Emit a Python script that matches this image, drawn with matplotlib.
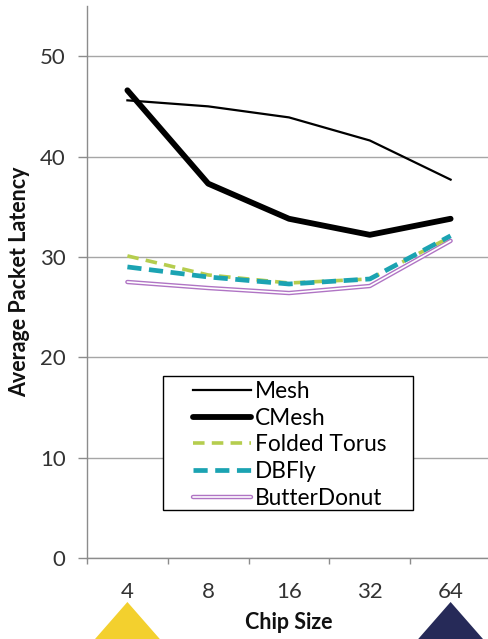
import matplotlib
matplotlib.use("Agg")
import matplotlib.pyplot as plt
import matplotlib.patheffects as pe
from matplotlib.patches import Polygon, Rectangle
from matplotlib.transforms import blended_transform_factory

plt.rcParams['font.family'] = ['Lato', 'DejaVu Sans']

# Data
chip_sizes = ["4", "8", "16", "32", "64"]
mesh = [45.6, 45.0, 43.9, 41.6, 37.7]
cmesh = [46.6, 37.3, 33.8, 32.2, 33.8]
folded_torus = [30.1, 28.2, 27.4, 27.8, 32.0]
dbfly = [29.0, 28.0, 27.3, 27.8, 32.1]
butter_donut = [27.5, 26.9, 26.4, 27.1, 31.6]

W, H = 489, 639
fig = plt.figure(figsize=(W / 100, H / 100), dpi=100)
ax_l, ax_r, ax_t, ax_b = 87, 491, 6, 558
ax = fig.add_axes([ax_l / W, (H - ax_b) / H, (ax_r - ax_l) / W, (ax_b - ax_t) / H])
aw, ah = ax_r - ax_l, ax_b - ax_t


def to_ax(px, py):
    """Pixel position (from top-left of the figure) to axes fraction."""
    return (px - ax_l) / aw, (ax_b - py) / ah


x = list(range(len(chip_sizes)))
grid_color = "#a6a6a6"
axis_color = "#8c8c8c"

ax.plot(x, mesh, color="black", lw=1.6, label="Mesh", zorder=3)
ax.plot(x, cmesh, color="black", lw=4.2, label="CMesh", zorder=3,
        solid_capstyle="round", solid_joinstyle="round")
bd, = ax.plot(x, butter_donut, color="white", lw=1.2, label="ButterDonut", zorder=3,
              solid_capstyle="round")
bd.set_path_effects([pe.Stroke(linewidth=3.2, foreground="#b074c4", capstyle="round"),
                     pe.Normal()])
ft, = ax.plot(x, folded_torus, color="#b5cd4e", lw=2.6, ls=(0, (3.2, 2.0)),
              label="Folded Torus", zorder=3)
db, = ax.plot(x, dbfly, color="#1ba3b2", lw=3.4, ls=(0, (3.0, 1.6)),
              label="DBFly", zorder=4)

ax.set_xlim(-0.5, len(chip_sizes) - 0.5)
ax.set_ylim(0, 55)
ax.set_yticks([0, 10, 20, 30, 40, 50])
ax.set_xticks(x)
ax.set_xticklabels(chip_sizes)
ax.set_xticks([i - 0.5 for i in range(len(chip_sizes) + 1)], minor=True)

ax.yaxis.grid(True, color=grid_color, lw=1.0)
ax.set_axisbelow(True)
for s in ["top", "right"]:
    ax.spines[s].set_visible(False)
for s in ["left", "bottom"]:
    ax.spines[s].set_color(axis_color)
    ax.spines[s].set_linewidth(1.0)

ax.tick_params(axis="y", length=6.5, color=axis_color, width=1.0, pad=9,
               labelsize=16, labelcolor="#333333")
ax.tick_params(axis="x", which="major", length=0, pad=17,
               labelsize=16, labelcolor="#333333")
ax.tick_params(axis="x", which="minor", length=4.5, color=axis_color, width=1.0)

ax.set_ylabel("Average Packet Latency", fontsize=15.5, fontweight="bold",
              color="#111111")
ax.set_xlabel("Chip Size", fontsize=15.5, fontweight="bold", color="#111111")
ax.yaxis.set_label_coords(to_ax(30, 0)[0], 0.5)
ax.xaxis.set_label_coords(0.5, to_ax(0, 612)[1])

# Legend box with wide side margins
bx0, by0 = to_ax(163, 510)
bx1, by1 = to_ax(413, 376)
ax.add_patch(Rectangle((bx0, by0), bx1 - bx0, by1 - by0, transform=ax.transAxes,
                       facecolor="white", edgecolor="black", lw=1.0, zorder=6))

handles = [ax.lines[0], ax.lines[1], ft, db, bd]
leg = ax.legend(handles, [h.get_label() for h in handles],
                loc="upper left", bbox_to_anchor=to_ax(193, 381),
                fontsize=16.3, handlelength=2.55, handletextpad=0.2,
                labelspacing=0.25, borderpad=0, borderaxespad=0,
                frameon=False)
leg.set_zorder(7)

# Corner markers below the first and last categories
tr = blended_transform_factory(ax.transData, fig.transFigure)
half_w = 0.47
apex_y = (H - 602) / H
for xc, col in [(0, "#f3d02e"), (len(chip_sizes) - 1, "#262a58")]:
    tri = Polygon([(xc - half_w, -0.01), (xc, apex_y), (xc + half_w, -0.01)],
                  closed=True, transform=tr, facecolor=col, edgecolor="none",
                  clip_on=False, zorder=5)
    fig.add_artist(tri)

fig.savefig("out.png", dpi=100)
